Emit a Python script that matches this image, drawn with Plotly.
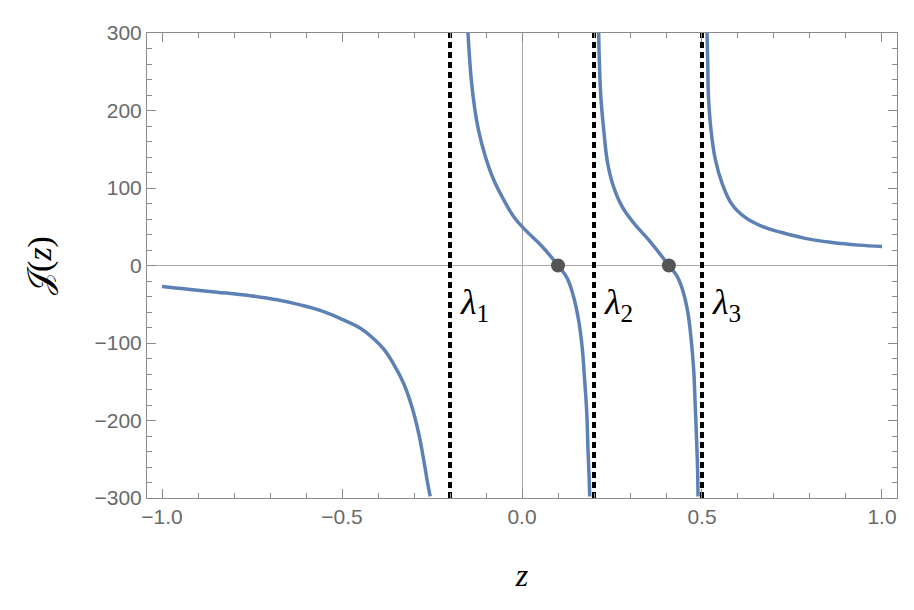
import plotly.graph_objects as go

# Poles (eigenvalues) and zeros
lambdas = [-0.2, 0.2, 0.5]
lambda_labels = ["λ", "λ", "λ"]
lambda_subs = ["1", "2", "3"]
zeros_z = [0.1, 0.408]
zeros_j = [0, 0]

# Branch 1: z < λ1
b1_z = [-1.0, -0.940, -0.847, -0.755, -0.681, -0.616, -0.551, -0.496, -0.449, -0.412,
        -0.384, -0.357, -0.329, -0.306, -0.287, -0.273, -0.262, -0.255]
b1_j = [-27, -30.1, -34.4, -39.1, -44.3, -50.8, -59.4, -70.2, -80.9, -94.5,
        -108, -127, -152, -182, -216.5, -251, -281, -298]

# Branch 2: λ1 < z < λ2
b2_z = [-0.150, -0.146, -0.141, -0.132, -0.121, -0.102, -0.079, -0.051, -0.023, 0.009,
        0.056, 0.1, 0.125, 0.143, 0.157, 0.167, 0.174, 0.180, 0.183, 0.186, 0.188]
b2_j = [300, 270, 240, 205, 175, 141, 111, 85, 63, 46,
        24.5, 0, -16, -40, -70, -105, -148, -191, -234, -268, -298]

# Branch 3: λ2 < z < λ3
b3_z = [0.213, 0.215, 0.219, 0.227, 0.238, 0.254, 0.278, 0.310, 0.352, 0.408,
        0.431, 0.449, 0.461, 0.470, 0.477, 0.481, 0.485, 0.488, 0.489]
b3_j = [300, 261, 218, 175, 132, 102, 76, 55, 33, 0,
        -14, -36, -61.5, -96, -135, -178, -225, -268, -298]

# Branch 4: z > λ3
b4_z = [0.514, 0.516, 0.518, 0.525, 0.537, 0.556, 0.583, 0.620, 0.667, 0.722,
        0.787, 0.861, 0.935, 1.0]
b4_j = [300, 261, 218, 175, 137, 106, 79, 62, 50.4, 42.5,
        35, 29.7, 26.3, 24.5]

x_ticks = [-1.0, -0.5, 0.0, 0.5, 1.0]
x_ticklabels = ["−1.0", "−0.5", "0.0", "0.5", "1.0"]
y_ticks = [-300, -200, -100, 0, 100, 200, 300]
y_ticklabels = ["−300", "−200", "−100", "0", "100", "200", "300"]

CURVE = "#5E81B5"
fig = go.Figure()

for lam in lambdas:
    fig.add_trace(go.Scatter(x=[lam, lam], y=[-300, 300], mode="lines",
                             line=dict(color="black", width=4, dash="6px,4px"),
                             showlegend=False, hoverinfo="skip"))

for zs, js in [(b1_z, b1_j), (b2_z, b2_j), (b3_z, b3_j), (b4_z, b4_j)]:
    fig.add_trace(go.Scatter(x=zs, y=js, mode="lines",
                             line=dict(color=CURVE, width=3.5, shape="spline", smoothing=1.2),
                             showlegend=False))

fig.add_trace(go.Scatter(x=zeros_z, y=zeros_j, mode="markers",
                         marker=dict(color="#555555", size=14),
                         showlegend=False))

for lam, lab, sub in zip(lambdas, lambda_labels, lambda_subs):
    fig.add_annotation(x=lam, y=-50, xref="x", yref="y", xanchor="left", yanchor="middle",
                       xshift=8, showarrow=False,
                       text=f"<i>{lab}</i><sub>{sub}</sub>",
                       font=dict(family="Liberation Serif", size=36, color="black"))

axis_common = dict(showline=True, linecolor="#8a8a8a", linewidth=1, mirror="ticks",
                   ticks="inside", ticklen=9, tickcolor="#8a8a8a", tickwidth=1,
                   showgrid=False, zeroline=True, zerolinecolor="#a8a8a8", zerolinewidth=1,
                   automargin=False,
                   tickfont=dict(family="Liberation Sans", size=21, color="#6a6a6a"))

fig.update_xaxes(range=[-1.0417, 1.0417], tickvals=x_ticks, ticktext=x_ticklabels,
                 minor=dict(ticks="inside", ticklen=5, dtick=0.1, tick0=0, tickcolor="#8a8a8a", showgrid=False),
                 title=dict(text="<i>z</i>", font=dict(family="Liberation Serif", size=32, color="black"),
                            standoff=36),
                 **axis_common)
fig.update_yaxes(range=[-300, 300], tickvals=y_ticks, ticktext=y_ticklabels,
                 minor=dict(ticks="inside", ticklen=5, dtick=20, tick0=0, tickcolor="#8a8a8a", showgrid=False),
                 title=dict(text="𝒥(<i>z</i>)", font=dict(family="Liberation Serif", size=34, color="black"),
                            standoff=32),
                 **axis_common)

# the page body adds an 8px offset, so margins are compensated
fig.update_layout(width=914, height=610, margin=dict(l=139, r=25, t=25, b=120, autoexpand=False),
                  plot_bgcolor="white", paper_bgcolor="white", showlegend=False)

fig.write_html("out.html")
